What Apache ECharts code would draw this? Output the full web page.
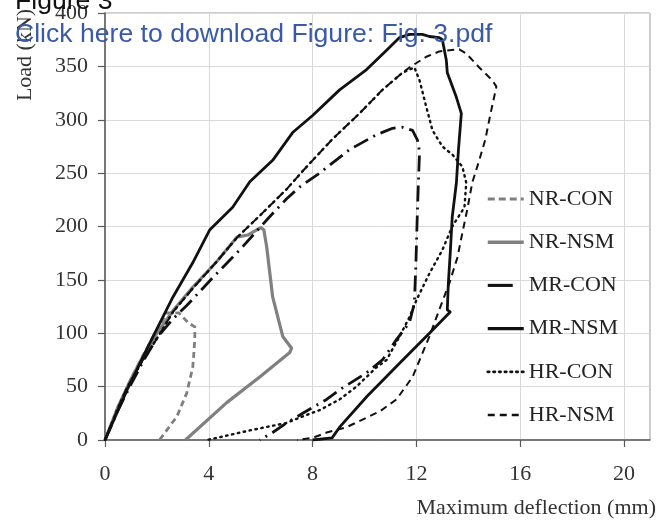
<!DOCTYPE html>
<html>
<head>
<meta charset="utf-8">
<script src="https://cdn.jsdelivr.net/npm/echarts@6/dist/echarts.min.js"></script>
<style>
html,body{margin:0;padding:0;background:#fff;}
#chart{width:659px;height:528px;}
</style>
</head>
<body>
<div id="chart"></div>
<script>
// ---- data (deflection mm, load kN) ----
const seriesNames = ['NR-CON', 'NR-NSM', 'MR-CON', 'MR-NSM', 'HR-CON', 'HR-NSM'];
const xTicks = [0, 4, 8, 12, 16, 20];
const yTicks = [0, 50, 100, 150, 200, 250, 300, 350, 400];

const NR_CON = [[0,0],[0.5,30],[1,57],[1.5,81],[2,103],[2.38,119],[2.85,119],[3.2,110],[3.46,106],[3.46,95],[3.42,80],[3.38,68],[3.15,44],[2.77,22],[2.1,0]];
const NR_NSM = [[0,0],[0.5,31],[1,57],[1.5,80],[2,100],[2.62,121],[3.38,143],[4.3,167],[5.08,190],[5.5,192],[6.0,199],[6.12,197],[6.23,181],[6.46,134],[6.85,97],[7.19,86],[7.12,82],[5.96,59],[4.69,35],[3.1,0]];
const MR_CON = [[0,0],[0.5,28],[1,52],[1.5,75],[2.04,97],[2.6,113],[3.15,126],[4.15,152],[5.19,178],[6.3,208],[7.0,226],[7.5,237],[8.27,250],[9.42,272],[10.46,286],[11.08,292],[11.46,293],[11.85,290],[12.04,281],[12.12,270],[12.06,230],[12.02,200],[11.98,165],[11.92,128],[11.73,110],[11.23,94],[10.69,75],[10.08,63],[9.04,47],[8.54,38],[7.62,25],[7.0,16],[6.46,7],[5.96,0]];
const MR_NSM = [[0,0],[0.85,47],[1.73,91],[2.62,134],[3.38,166],[4.04,197],[4.92,218],[5.58,242],[6.46,262],[7.23,288],[8.0,304],[9.04,328],[10.08,347],[10.85,365],[11.35,377],[11.73,380],[12.23,380],[12.5,378],[12.88,377],[13.0,375],[13.15,356],[13.19,344],[13.54,321],[13.73,306],[13.62,272],[13.54,241],[13.38,209],[13.31,178],[13.23,147],[13.19,122],[13.3,120],[12.5,100],[11.35,72],[10.1,41],[9.04,12],[8.75,2],[8.0,0]];
const HR_CON = [[0,0],[0.5,30],[0.85,49],[1.46,75],[2,95],[2.62,120],[3.38,142],[4.3,167],[5.1,190],[6,211],[7,235],[7.62,252],[8,262],[8.77,282],[9.81,306],[10.69,328],[11.46,344],[11.92,349],[12.12,337],[12.38,312],[12.62,290],[13.0,275],[13.4,267],[13.77,256],[13.92,241],[13.85,218],[13.38,200],[13.0,178],[12.5,156],[12.0,131],[11.73,115],[11.35,97],[10.85,75],[10.46,68],[9.69,50],[9.04,38],[8.27,28],[7.5,21],[7.0,16],[5.58,9],[4.31,2],[3.92,0]];
const HR_NSM = [[0,0],[0.5,30],[0.85,49],[1.46,75],[2,95],[2.62,120],[3.38,142],[4.3,167],[5.1,190],[6,211],[7,235],[7.62,252],[8,262],[8.77,282],[9.81,306],[10.69,328],[11.46,344],[11.73,349],[12.38,359],[12.88,364],[13.27,365],[13.65,366],[13.92,362],[14.42,349],[14.92,337],[15.08,331],[14.85,305],[14.65,281],[14.42,262],[14.15,241],[13.96,216],[13.77,194],[13.58,171],[13.27,147],[12.88,122],[12.5,97],[11.85,59],[11.23,38],[10.6,27],[10.08,21],[9.31,12],[8.54,7],[8.0,2],[7.4,0]];

const seriesData = [NR_CON, NR_NSM, MR_CON, MR_NSM, HR_CON, HR_NSM];
const seriesStyles = [
  {color:'#7f7f7f', width:2.8, type:[6,4]},
  {color:'#808080', width:3.2, type:'solid'},
  {color:'#111111', width:2.8, type:[16,6,2,6]},
  {color:'#111111', width:2.8, type:'solid'},
  {color:'#111111', width:2.4, type:[1.5,4.5], cap:'round'},
  {color:'#111111', width:2, type:[7,5]}
];
const legendTypes = [[7,4], 'solid', [25,30], 'solid', [1.5,4.2], [7,5]];

const serif = '"Liberation Serif", "Times New Roman", serif';
const sans = '"Liberation Sans", Arial, sans-serif';
const chart = echarts.init(document.getElementById('chart'), null, {renderer:'canvas'});
chart.setOption({
  animation:false,
  backgroundColor:'#fff',
  grid:{left:105, right:9, top:13, bottom:88, show:true, borderColor:'#9a9a9a', borderWidth:1, containLabel:false},
  xAxis:{
    type:'value', min:0, max:21, interval:4,
    axisLine:{show:true, onZero:false, lineStyle:{color:'#595959', width:1.5}},
    axisTick:{show:true, length:7, customValues:xTicks, lineStyle:{color:'#595959', width:1.2}},
    axisLabel:{customValues:xTicks, margin:23, fontFamily:serif, fontSize:22, color:'#333'},
    splitLine:{show:true, lineStyle:{color:'#d9d9d9', width:1}}
  },
  yAxis:{
    type:'value', min:0, max:400, interval:50,
    axisLine:{show:true, onZero:false, lineStyle:{color:'#595959', width:1.5}},
    axisTick:{show:true, length:7, customValues:yTicks, lineStyle:{color:'#595959', width:1.2}},
    axisLabel:{customValues:yTicks, margin:17, fontFamily:serif, fontSize:22, color:'#333'},
    splitLine:{show:true, lineStyle:{color:'#d9d9d9', width:1}}
  },
  legend:{
    orient:'vertical', left:486, top:188, padding:0,
    itemWidth:36, itemHeight:22, itemGap:21.2,
    data:seriesNames.map((n,i)=>({
      name:n,
      lineStyle:{color:seriesStyles[i].color, width:seriesStyles[i].width + 0.3, type:legendTypes[i], cap:seriesStyles[i].cap||'butt'}
    })),
    itemStyle:{opacity:0},
    textStyle:{fontFamily:serif, fontSize:22, color:'#222', padding:[0,0,0,0]}
  },
  series: seriesNames.map((n,i)=>({
    name:n, type:'line', data:seriesData[i], showSymbol:false, symbol:'none',
    smooth:false, z: i<2 ? 2 : 3,
    lineStyle:{color:seriesStyles[i].color, width:seriesStyles[i].width, type:seriesStyles[i].type, cap:seriesStyles[i].cap||'butt', join:'round'},
    itemStyle:{color:seriesStyles[i].color}
  })),
  graphic:[
    {type:'text', x:25, y:55, rotation:Math.PI/2, z:10,
     style:{text:'Load (kN)', fontFamily:serif, fontSize:22, fill:'#333', align:'center', verticalAlign:'middle'}},
    {type:'text', x:656, y:508, z:10,
     style:{text:'Maximum deflection (mm)', fontFamily:serif, fontSize:22, fill:'#333', align:'right', verticalAlign:'middle'}},
    {type:'text', x:15, y:-12, z:20,
     style:{text:'Figure 3', fontFamily:sans, fontSize:26.6, fill:'#111', align:'left', verticalAlign:'top'}},
    {type:'text', x:15, y:21, z:20,
     style:{text:'Click here to download Figure: Fig. 3.pdf', fontFamily:sans, fontSize:26.6, fill:'#3a5aa8', align:'left', verticalAlign:'top'}}
  ]
});
</script>
</body>
</html>
